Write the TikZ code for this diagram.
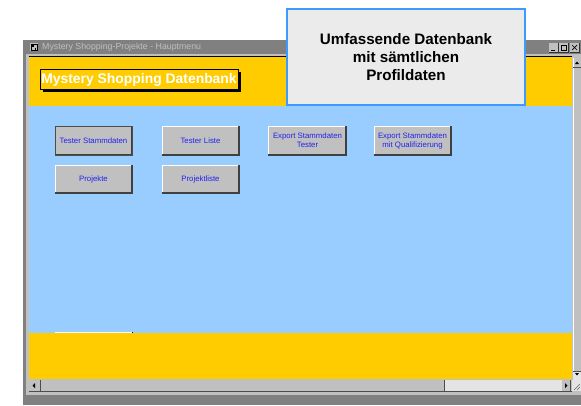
\documentclass[tikz,border=0pt]{standalone}
\usepackage{fontspec}
\setmainfont{Liberation Sans}
\definecolor{winyel}{HTML}{FFCC00}
\definecolor{winblue}{HTML}{99CCFF}
\definecolor{wingray}{HTML}{C0C0C0}
\definecolor{windark}{HTML}{808080}
\definecolor{callfill}{HTML}{EBEBEB}
\definecolor{callline}{HTML}{3D9BFF}
\definecolor{btntext}{HTML}{2222EE}
\definecolor{checker}{HTML}{E4E4E4}
\tikzset{
  btn/.style={draw=none, fill=wingray, minimum width=77pt, minimum height=29pt, inner sep=0pt,
    font=\fontsize{7.8}{9}\selectfont, text=btntext, align=center},
}
\newcommand{\bevel}[4]{% x1 y1 x2 y2
  \draw[white, line width=1pt] (#1,#4) -- (#1,#2) -- (#3,#2);
  \draw[black!75, line width=1.2pt] (#1,#4) -- (#3,#4) -- (#3,#2);
}
\begin{document}
\begin{tikzpicture}[x=1pt,y=-1pt]
\useasboundingbox (0,0) rectangle (581,405);
\fill[white] (0,0) rectangle (581,405);
% window frame
\fill[windark] (23,40) rectangle (581,405);
\fill[wingray] (26,40) rectangle (581,395);
% title bar
\fill[windark] (26,40) rectangle (581,54);
\node[anchor=west, inner sep=0pt, font=\fontsize{8.8}{9}\selectfont, text=wingray] (ttl) at (42,47) {Mystery Shopping-Projekte - Hauptmenu};
\fill[wingray] (30,43) rectangle (38,51);
\draw[black, line width=0.6pt] (31,44) rectangle (37,50);
\fill[black] (32,45) rectangle (34,47);
\fill[black] (34.5,47.5) rectangle (36,49.5);
% title bar buttons
\foreach \bx/\k in {549/0,559/1,570/2}{
  \fill[wingray] (\bx,43) rectangle (\bx+9,52);
  \draw[black!80, line width=0.6pt] (\bx,52) -- (\bx+9,52) -- (\bx+9,43);
}
\draw[black, line width=1pt] (551,50.5) -- (555,50.5);
\draw[black, line width=0.6pt] (561,45) rectangle (566,50);
\draw[black, line width=0.7pt] (572,45) -- (577,50) (572,50) -- (577,45);
% black line under title
\draw[black, line width=0.8pt] (29,56) -- (572,56);
% content
\fill[winyel] (29,57) rectangle (572,106);
\fill[winblue] (29,106) rectangle (572,333);
\fill[winyel] (29,333) rectangle (572,380);
% hidden button edge
\draw[white, line width=0.8pt] (55,332) -- (132,332);
\fill[black] (132,331.5) rectangle (133,333);
% title label with shadow
\fill[black] (43,72) rectangle (241,92);
\fill[winyel] (40,69) rectangle (238,89);
\draw[black, line width=0.6pt] (40,69) rectangle (238,89);
\node[inner sep=0pt, font=\bfseries\fontsize{13.9}{15}\selectfont, text=white] (hdr) at (139,79.5) {Mystery Shopping Datenbank};
% buttons
\node[btn] (b1) at (93.5,140.5) {Tester Stammdaten};
\bevel{55}{126}{132}{155}
\draw[black!70, line width=0.8pt] (55,126) rectangle (132,155);
\node[btn] (b2) at (200.5,140.5) {Tester Liste};
\bevel{162}{126}{239}{155}
\node[btn] (b3) at (307.5,140.5) {Export Stammdaten\\Tester};
\bevel{268}{126}{346}{155}
\node[btn] (b4) at (412.5,140.5) {Export Stammdaten\\mit Qualifizierung};
\bevel{374}{126}{451}{155}
\node[btn, minimum height=28pt] (b5) at (93.5,179) {Projekte};
\bevel{55}{165}{132}{193}
\node[btn, minimum height=28pt] (b6) at (200.5,179) {Projektliste};
\bevel{162}{165}{239}{193}
% vertical scrollbar
\fill[wingray] (572,57) rectangle (581,380);
\draw[white, line width=0.6pt] (573,58) -- (573,380);
\draw[black!70, line width=0.6pt] (573,67) -- (581,67);
\fill[black] (575,64) -- (579,64) -- (577,61.5) -- cycle;
\fill[checker] (573,372) rectangle (581,380);
\draw[black!70, line width=0.6pt] (573,371) -- (581,371);
\fill[black] (575,373) -- (579,373) -- (577,375.5) -- cycle;
% horizontal scrollbar
\fill[wingray] (29,379) rectangle (572,391);
\fill[checker] (444,380) rectangle (562,391);
\draw[black!70, line width=0.6pt] (29,391) -- (572,391);
\draw[black!70, line width=0.6pt] (40,380) -- (40,391);
\draw[black!70, line width=0.8pt] (444,380) -- (444,391);
\fill[black] (35,383) -- (35,388) -- (32.5,385.5) -- cycle;
\draw[black!70, line width=0.6pt] (570,380) -- (570,391);
\fill[black] (565,383) -- (565,388) -- (567.5,385.5) -- cycle;
\fill[checker] (572,380) rectangle (581,391);
\draw[black!60, line width=0.4pt] (574,390) -- (580,384) (577,390) -- (580,387);
% callout
\node[draw=callline, line width=1.3pt, fill=callfill, minimum width=238pt, minimum height=96pt, inner sep=0pt,
  font=\bfseries\fontsize{15.2}{18}\selectfont, align=center] (call) at (406,57) {Umfassende Datenbank\\mit sämtlichen\\Profildaten};
\end{tikzpicture}
\end{document}
